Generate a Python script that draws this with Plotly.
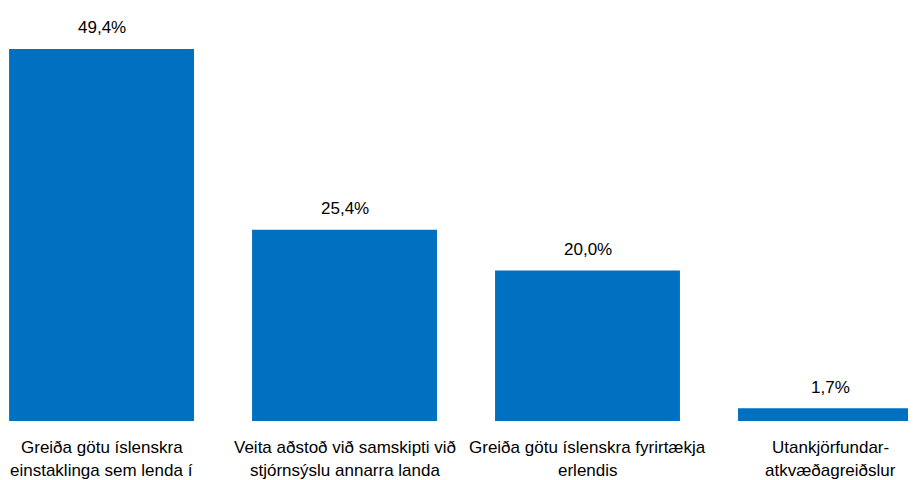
import plotly.graph_objects as go

cat_line1 = [
    "Greiða götu íslenskra",
    "Veita aðstoð við samskipti við",
    "Greiða götu íslenskra fyrirtækja",
    "Utankjörfundar-",
]
cat_line2 = [
    "einstaklinga sem lenda í",
    "stjórnsýslu annarra landa",
    "erlendis",
    "atkvæðagreiðslur",
]
values = [49.4, 25.4, 20.0, 1.7]
value_labels = ["49,4%", "25,4%", "20,0%", "1,7%"]

FONT = "Liberation Sans, Arial, sans-serif"
x = list(range(len(values)))

fig = go.Figure()
fig.add_trace(go.Bar(
    x=x, y=values, width=0.761,
    marker=dict(color="#0070C0", line=dict(width=0)),
    hoverinfo="skip",
))
for xi, v, lab in zip(x, values, value_labels):
    fig.add_annotation(x=xi, y=v, text=lab, showarrow=False,
                       yanchor="middle", yshift=21,
                       font=dict(family=FONT, size=17, color="#000000"))
for xi, l1, l2 in zip(x, cat_line1, cat_line2):
    fig.add_annotation(x=xi, y=0, xref="x", yref="paper", text=l1, showarrow=False,
                       yanchor="middle", yshift=-26,
                       font=dict(family=FONT, size=17, color="#000000"))
    fig.add_annotation(x=xi, y=0, xref="x", yref="paper", text=l2, showarrow=False,
                       yanchor="middle", yshift=-49,
                       font=dict(family=FONT, size=17, color="#000000"))

fig.update_layout(
    width=908, height=472,
    margin=dict(l=0, r=0, t=0, b=59),
    paper_bgcolor="white", plot_bgcolor="white",
    showlegend=False,
    xaxis=dict(
        range=[-0.385, 3.352], automargin=False,
        showticklabels=False,
        showgrid=False, zeroline=False, showline=False, ticks="",
    ),
    yaxis=dict(range=[0, 54.84], visible=False, showgrid=False, zeroline=False,
               automargin=False),
)

fig.write_html("out.html")
